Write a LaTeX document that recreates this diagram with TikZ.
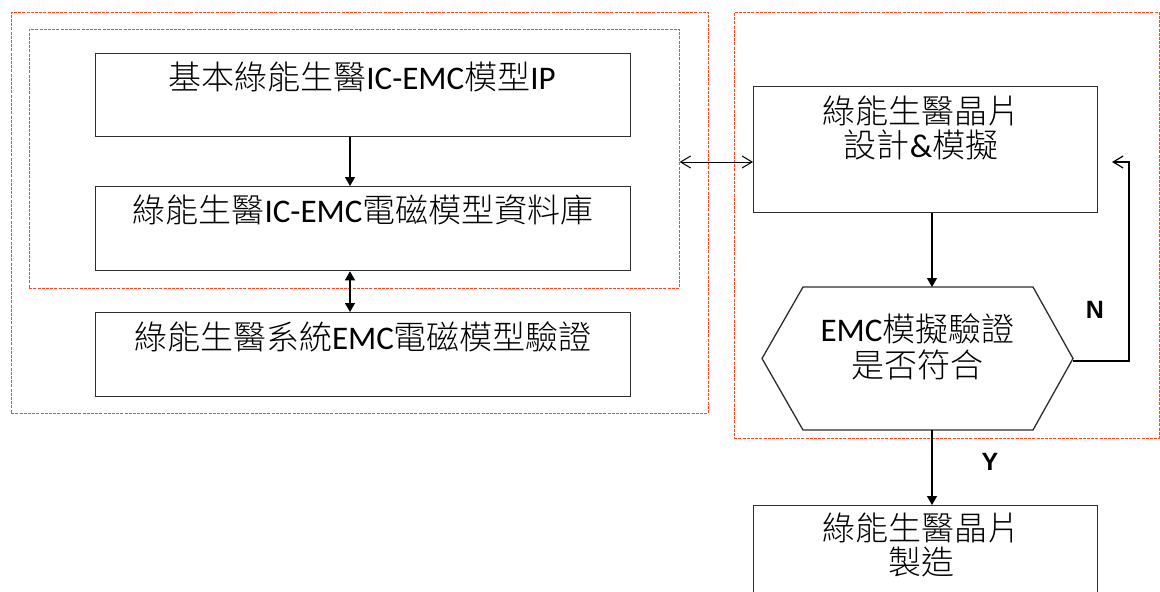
\documentclass[tikz,border=0pt]{standalone}
\usepackage{fontspec}
\newfontfamily\cjk{Noto Sans CJK TC}[UprightFont={* Light}]
\newfontfamily\lat{Carlito}
\newfontfamily\arl{Liberation Sans}
\usetikzlibrary{arrows.meta}
\newcommand{\lt}[1]{{\lat #1}}
\definecolor{dashred}{RGB}{255,70,30}
\definecolor{boxline}{RGB}{45,45,45}
\begin{document}
\begin{tikzpicture}[x=1pt,y=-1pt,
  box/.style={draw=boxline, line width=1.3pt, anchor=north west, inner sep=0pt},
  dbox/.style={draw=dashred, line width=1.2pt, dash pattern=on 3pt off 1.2pt, anchor=north west, inner sep=0pt},
  lbl/.style={font=\cjk\fontsize{33}{34}\selectfont, align=center, inner sep=0pt},
  hexlbl/.style={font=\cjk\fontsize{33}{36}\selectfont, align=center, inner sep=0pt},
  yn/.style={font=\arl\bfseries\fontsize{25}{25}\selectfont, inner sep=0pt},
  flow/.style={-{Triangle[length=9pt,width=10pt]}, line width=1.2pt},
  dflow/.style={{Triangle[length=9pt,width=10pt]}-{Triangle[length=9pt,width=10pt]}, line width=1.2pt},
  barb/.style={{Straight Barb[length=10pt,width=12pt]}-{Straight Barb[length=10pt,width=12pt]}, line width=1pt},
  fb/.style={-{Straight Barb[length=10pt,width=12pt]}, line width=1.2pt}]
\useasboundingbox (0,0) rectangle (1160,592);

% dashed groups
\node[dbox, minimum width=697pt, minimum height=401pt] (outerL) at (10.5,11.5) {};
\node[dbox, minimum width=650pt, minimum height=259pt] (inner) at (28.5,28.5) {};
\node[dbox, minimum width=425pt, minimum height=426pt] (outerR) at (733.5,11.5) {};

% boxes
\node[box, minimum width=535pt, minimum height=83pt] (b1) at (95,53) {};
\node[box, minimum width=535pt, minimum height=84pt] (b2) at (95,186) {};
\node[box, minimum width=535pt, minimum height=84pt] (b3) at (95,312) {};
\node[box, minimum width=344pt, minimum height=126pt] (b4) at (753,86) {};
\node[box, minimum width=344pt, minimum height=120pt] (b5) at (753,505) {};

% hexagon
\coordinate (hA) at (762,358.5);
\coordinate (hB) at (803,287);
\coordinate (hC) at (1033,287);
\coordinate (hD) at (1073,358.5);
\coordinate (hE) at (1033,430);
\coordinate (hF) at (803,430);
\draw[draw=boxline, line width=1.3pt, line join=miter] (hA) -- (hB) -- (hC) -- (hD) -- (hE) -- (hF) -- cycle;

% texts
\node[lbl] (t1) at (362,77) {基本綠能生醫\lt{IC-EMC}模型\lt{IP}};
\node[lbl] (t2) at (363,210) {綠能生醫\lt{IC-EMC}電磁模型資料庫};
\node[lbl] (t3) at (363,337) {綠能生醫系統\lt{EMC}電磁模型驗證};
\node[lbl] (t4) at (921,128) {綠能生醫晶片\\設計\lt{\&}模擬};
\node[hexlbl] (t5) at (917.5,347) {\lt{EMC}模擬驗證\\是否符合};
\node[lbl] (t6) at (921,545) {綠能生醫晶片\\製造};
\node[yn] (nN) at (1095,310) {N};
\node[yn] (nY) at (990,462) {Y};

% helper coordinates
\coordinate (axL) at (350,0);
\coordinate (axR) at (932,0);
\coordinate (ay) at (0,162);
\coordinate (hexT) at (932,287);
\coordinate (hexB) at (932,430);
\coordinate (hexR) at (1073,361);
\coordinate (fbCorner) at (1129,361);
\coordinate (fbEnd) at (1112,162);

% connectors
\draw[flow] (b1.south -| axL) -- (b2.north -| axL);
\draw[dflow] (b2.south -| axL) -- (b3.north -| axL);
\draw[barb] (inner.east |- ay) -- (b4.west |- ay);
\draw[flow] (b4.south -| axR) -- (hexT);
\draw[fb] (hexR) -- (fbCorner) -- (fbCorner |- fbEnd) -- (fbEnd);
\draw[flow] (hexB) -- (b5.north -| axR);
\end{tikzpicture}
\end{document}
